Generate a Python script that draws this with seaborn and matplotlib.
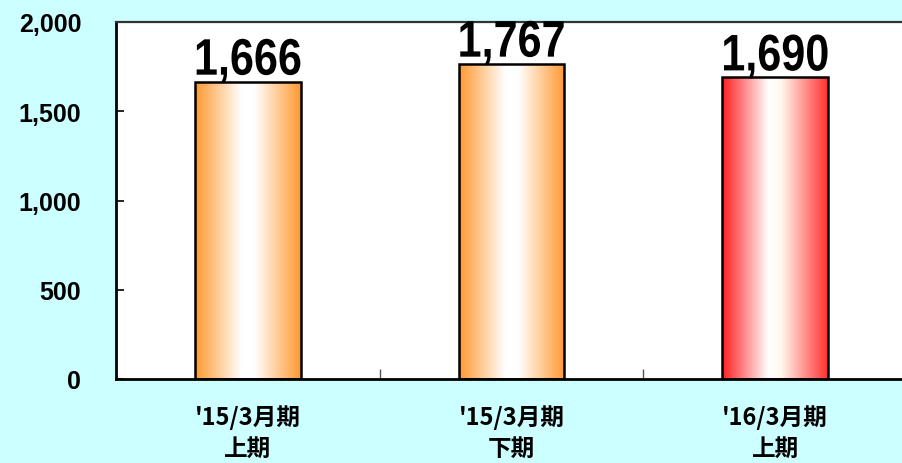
import numpy as np
import pandas as pd
import matplotlib
matplotlib.use("Agg")
import matplotlib.pyplot as plt
from matplotlib.colors import LinearSegmentedColormap
from matplotlib.ticker import FuncFormatter, FixedLocator
from matplotlib import patheffects
from matplotlib.transforms import Affine2D
import seaborn as sns

categories = ["'15/3月期\n上期", "'15/3月期\n下期", "'16/3月期\n上期"]
values = [1666, 1767, 1690]
bar_palettes = [
    ["#FF9830", "#FFFFFF", "#FFFFFF", "#FF9830"],
    ["#FF9830", "#FFFFFF", "#FFFFFF", "#FF9830"],
    ["#FF1E1E", "#FFFFFF", "#FFF8EE", "#FF3030"],
]
yticks = [0, 500, 1000, 1500, 2000]


class Condense(patheffects.AbstractPathEffect):
    """Draw text glyphs horizontally condensed about their centre."""
    def __init__(self, sx=0.8):
        super().__init__()
        self.sx = sx

    def draw_path(self, renderer, gc, tpath, affine, rgbFace=None):
        ext = tpath.get_extents()
        cx = (ext.x0 + ext.x1) / 2
        t = Affine2D().translate(-cx, 0).scale(self.sx, 1).translate(cx, 0) + affine
        renderer.draw_path(gc, tpath, t, rgbFace)


sns.set_theme(style="white")
plt.rcParams['font.family'] = ['Noto Sans CJK JP', 'DejaVu Sans']

fig = plt.figure(figsize=(9.02, 4.64), dpi=100)
fig.patch.set_facecolor("#CCFFFF")
W, H = 902, 464
ax = fig.add_axes([116 / W, (H - 380) / H, 791 / W, (380 - 23) / H])
ax.set_facecolor("white")

df = pd.DataFrame({"cat": categories, "val": values})
sns.barplot(data=df, x="cat", y="val", ax=ax, width=0.40,
            facecolor="none", edgecolor="black", linewidth=1.8, zorder=3)

ax.set_xlim(-0.5, 2.5)
ax.set_ylim(0, 2000)

for patch, pal in zip(ax.patches, bar_palettes):
    x0, y0 = patch.get_x(), patch.get_y()
    w, h = patch.get_width(), patch.get_height()
    cmap = LinearSegmentedColormap.from_list("g", list(zip([0, 0.44, 0.56, 1], pal)))
    grad = np.linspace(0, 1, 256).reshape(1, -1)
    im = ax.imshow(grad, cmap=cmap, extent=[x0, x0 + w, y0, y0 + h],
                   aspect="auto", zorder=2, interpolation="bicubic")
    im.set_clip_path(patch)
    patch.set_facecolor("none")

for i, v in enumerate(values):
    t = ax.annotate(f"{v:,}", xy=(i, v), xytext=(0, 5), textcoords="offset points",
                    ha="center", va="baseline", fontsize=37, fontweight="bold",
                    family=["Liberation Sans", "DejaVu Sans"], color="black", zorder=5,
                    annotation_clip=False)
    t.set_clip_on(True)
    t.set_path_effects([Condense(0.84)])

ax.set_xlabel("")
ax.set_ylabel("")
ax.set_yticks(yticks)
ax.yaxis.set_major_formatter(FuncFormatter(lambda v, p: f"{int(v):,}"))
for lab in ax.get_yticklabels():
    lab.set_fontweight("bold")
    lab.set_fontsize(18)
    lab.set_color("black")
    lab.set_family(["Liberation Sans", "DejaVu Sans"])
ax.tick_params(axis="y", direction="in", length=6, width=1.2, color="black", pad=25, left=True)
ax.tick_params(axis="x", which="major", length=0, pad=18)
for lab in ax.get_xticklabels():
    lab.set_fontweight("bold")
    lab.set_fontsize(17)
    lab.set_color("black")
    lab.set_linespacing(1.4)
ax.xaxis.set_minor_locator(FixedLocator([0.5, 1.5]))
ax.tick_params(axis="x", which="minor", direction="in", length=7, width=1, color="#555555", bottom=True)

for s in ["left", "bottom", "top"]:
    ax.spines[s].set_visible(True)
    ax.spines[s].set_color("black")
ax.spines["left"].set_linewidth(2)
ax.spines["bottom"].set_linewidth(2)
ax.spines["top"].set_linewidth(1.6)
ax.spines["top"].set_color("#333333")
ax.spines["right"].set_visible(False)

fig.savefig("out.png", dpi=100, facecolor=fig.get_facecolor())
